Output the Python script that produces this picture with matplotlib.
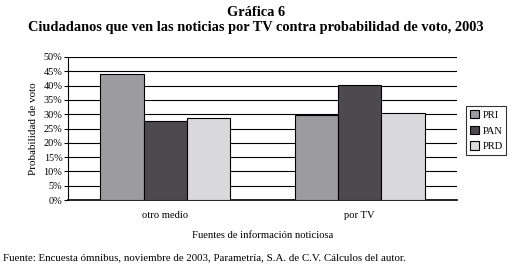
import matplotlib
matplotlib.use('Agg')

import matplotlib.pyplot as plt
import numpy as np
from matplotlib.ticker import PercentFormatter

categories = ['otro medio', 'por TV']
parties = ['PRI', 'PAN', 'PRD']
pri = [44.0, 29.6]
pan = [27.7, 40.1]
prd = [28.6, 30.5]
colors = ['#9c9c9e', '#4c4a4c', '#d9d9db']

plt.rcParams['font.family'] = ['Liberation Serif', 'DejaVu Serif']

fig = plt.figure(figsize=(5.12, 2.69), dpi=100)
ax = fig.add_axes([68 / 512, 1 - 200 / 269, 389 / 512, 143 / 269])

x = np.arange(len(categories))
w = 0.223
for i, (vals, name) in enumerate(zip([pri, pan, prd], parties)):
    ax.bar(x + (i - 1) * w, vals, width=w, color=colors[i], edgecolor='black',
           linewidth=0.8, label=name, zorder=3)

ax.set_xlim(-0.5, 1.5)
ax.set_ylim(0, 50)
ax.set_yticks(np.arange(0, 51, 5))
ax.yaxis.set_major_formatter(PercentFormatter(decimals=0))
ax.yaxis.grid(True, color='black', linewidth=0.8, zorder=0)
ax.set_axisbelow(True)
ax.spines['top'].set_visible(False)
ax.spines['right'].set_visible(False)
ax.spines['left'].set_linewidth(0.8)
ax.spines['bottom'].set_linewidth(1.2)
ax.set_xticks(x)
ax.set_xticklabels(categories, fontsize=7.6)
ax.tick_params(axis='x', length=0, pad=8)
ax.tick_params(axis='y', labelsize=7.4, length=3, width=0.8, pad=1)
ax.set_ylabel('Probabilidad de voto', fontsize=8, labelpad=4)
ax.set_xlabel('Fuentes de información noticiosa', fontsize=7.7, labelpad=8)

leg = ax.legend(loc='upper left', bbox_to_anchor=(466 / 512, 1 - 106 / 269),
                bbox_transform=fig.transFigure, fontsize=7.6, frameon=True,
                fancybox=False, edgecolor='black', handlelength=0.9,
                handleheight=0.9, handletextpad=0.3, borderpad=0.35,
                labelspacing=0.55, borderaxespad=0)
leg.get_frame().set_linewidth(0.8)

fig.text(0.5, 1 - 12 / 269, 'Gráfica 6', ha='center', va='center',
         fontsize=10.4, fontweight='bold')
fig.text(0.5, 1 - 28 / 269,
         'Ciudadanos que ven las noticias por TV contra probabilidad de voto, 2003',
         ha='center', va='center', fontsize=10.4, fontweight='bold')
fig.text(3 / 512, 1 - 258 / 269,
         'Fuente: Encuesta ómnibus, noviembre de 2003, Parametría, S.A. de C.V. Cálculos del autor.',
         ha='left', va='center', fontsize=7.8)

fig.savefig('out.png', dpi=100)
